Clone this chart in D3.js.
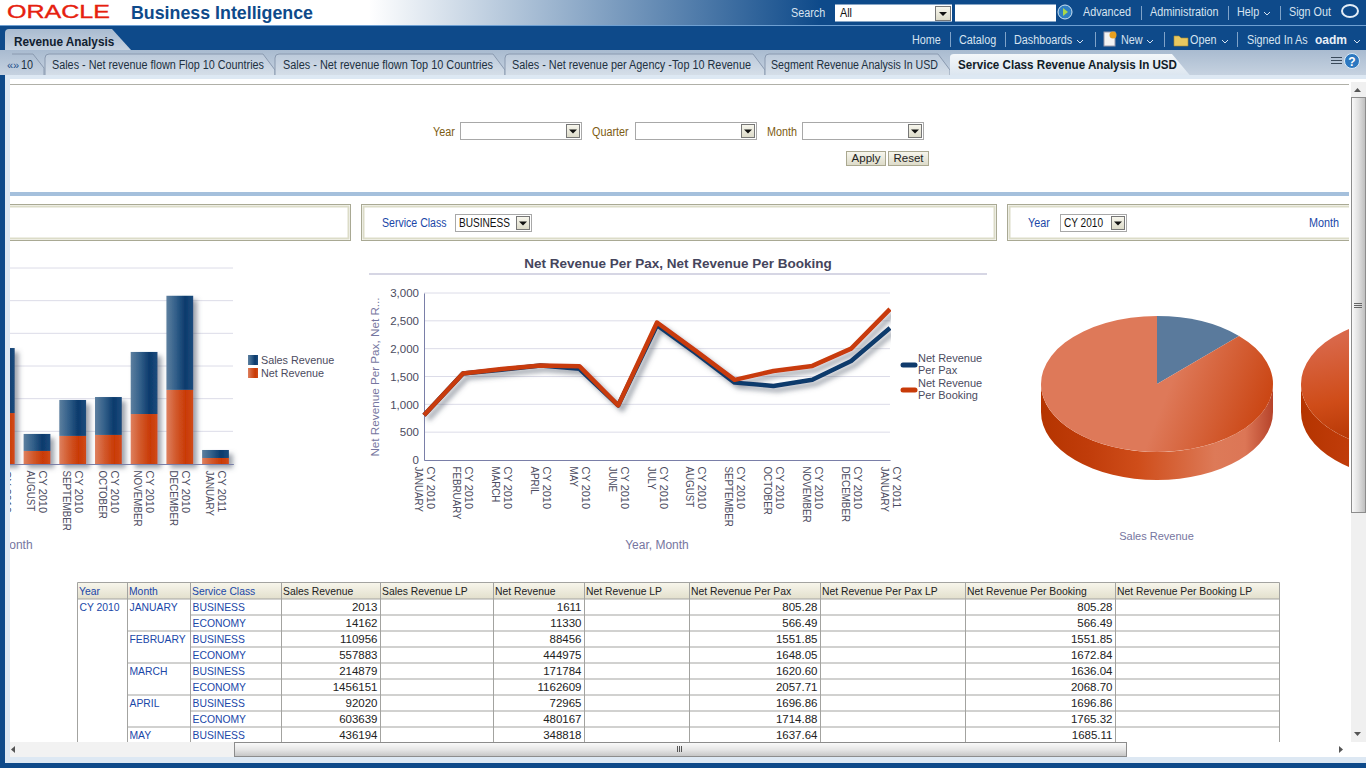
<!DOCTYPE html>
<html>
<head>
<meta charset="utf-8">
<title>Service Class Revenue Analysis In USD</title>
<script src="https://cdn.jsdelivr.net/npm/d3@7"></script>
<style>
  html, body { margin: 0; padding: 0; background: #fff; overflow: hidden; }
  text { font-family: "Liberation Sans", Arial, sans-serif; }
</style>
</head>
<body>
<div id="page"></div>
<script>
// bar chart (only the part left of the scroll edge is visible)
const barMonths = ["JULY", "AUGUST", "SEPTEMBER", "OCTOBER", "NOVEMBER", "DECEMBER", "JANUARY"];
const barYears = ["CY 2010", "CY 2010", "CY 2010", "CY 2010", "CY 2010", "CY 2010", "CY 2011"];
const barSales = [1990000, 520000, 1100000, 1160000, 1900000, 2880000, 245000];
const barNet = [1560000, 400000, 860000, 890000, 1530000, 2270000, 184000];
const barTicks = [0, 1000000, 2000000, 3000000, 4000000, 5000000, 6000000];

// line chart
const lineMonths = ["JANUARY", "FEBRUARY", "MARCH", "APRIL", "MAY", "JUNE", "JULY", "AUGUST", "SEPTEMBER", "OCTOBER", "NOVEMBER", "DECEMBER", "JANUARY"];
const lineYears = ["CY 2010", "CY 2010", "CY 2010", "CY 2010", "CY 2010", "CY 2010", "CY 2010", "CY 2010", "CY 2010", "CY 2010", "CY 2010", "CY 2010", "CY 2011"];
const perPax = [805, 1552, 1620, 1697, 1638, 980, 2420, 1920, 1390, 1330, 1440, 1780, 2370];
const perBooking = [805, 1552, 1636, 1697, 1685, 980, 2470, 1960, 1440, 1600, 1690, 2000, 2710];
const lineTicks = [0, 500, 1000, 1500, 2000, 2500, 3000];

// pies
const pieClasses = ["BUSINESS", "ECONOMY"];
const pieSales = [1850000, 12950000];
const pieNet = [1480000, 10360000];

// table
const tableHeaders = ["Year", "Month", "Service Class", "Sales Revenue", "Sales Revenue LP", "Net Revenue", "Net Revenue LP", "Net Revenue Per Pax", "Net Revenue Per Pax LP", "Net Revenue Per Booking", "Net Revenue Per Booking LP"];
const tableMonths = ["JANUARY", "", "FEBRUARY", "", "MARCH", "", "APRIL", "", "MAY"];
const tableClasses = ["BUSINESS", "ECONOMY", "BUSINESS", "ECONOMY", "BUSINESS", "ECONOMY", "BUSINESS", "ECONOMY", "BUSINESS"];
const tableSales = ["2013", "14162", "110956", "557883", "214879", "1456151", "92020", "603639", "436194"];
const tableNet = ["1611", "11330", "88456", "444975", "171784", "1162609", "72965", "480167", "348818"];
const tablePax = ["805.28", "566.49", "1551.85", "1648.05", "1620.60", "2057.71", "1696.86", "1714.88", "1637.64"];
const tableBooking = ["805.28", "566.49", "1551.85", "1672.84", "1636.04", "2068.70", "1696.86", "1765.32", "1685.11"];

const NAVY = "#0e4a8a";
const LINK = "#1a47a8";
const CHART_TEXT = "#4b4b60";
const AXIS_TITLE = "#7676a0";

const svg = d3.select("#page").append("svg").attr("width", 1366).attr("height", 768).style("display", "block");
const defs = svg.append("defs");

function gradient(id, stops, x1 = 0, y1 = 0, x2 = 1, y2 = 0, user = false) {
  const g = defs.append("linearGradient").attr("id", id)
    .attr("x1", x1).attr("y1", y1).attr("x2", x2).attr("y2", y2);
  if (user) g.attr("gradientUnits", "userSpaceOnUse");
  stops.forEach(s => g.append("stop").attr("offset", s[0]).attr("stop-color", s[1]));
}

gradient("topBar", [[0, "#ffffff"], [0.27, "#ffffff"], [0.6, NAVY], [1, NAVY]]);
gradient("tabStrip", [[0, "#a9bbd0"], [1, "#c6d2e0"]], 0, 0, 0, 1);
gradient("activeTab", [[0, "#f4f7fa"], [1, "#d8e3ee"]], 0, 0, 0, 1);
gradient("inactiveTab", [[0, "#bccadb"], [1, "#d5dee8"]], 0, 0, 0, 1);
gradient("btn", [[0, "#f8f7ee"], [1, "#dcdac8"]], 0, 0, 0, 1);
gradient("tableHead", [[0, "#f8f6ec"], [1, "#e2dfcc"]], 0, 0, 0, 1);
gradient("scrollH", [[0, "#fbfbfb"], [0.5, "#e6e6e6"], [1, "#c4c4c4"]], 0, 0, 0, 1);
gradient("scrollV", [[0, "#fbfbfb"], [0.5, "#e0e0e0"], [1, "#bcbcbc"]]);
gradient("barBlue", [[0, "#5d7f9f"], [0.35, "#33608a"], [0.7, "#0b3a6c"], [1, "#1c4c7d"]]);
gradient("barOrange", [[0, "#de805f"], [0.35, "#d25a2d"], [0.72, "#c93a05"], [1, "#d04a18"]]);
gradient("pieWall", [[0, "#b53400"], [0.2, "#c03c0a"], [0.42, "#cf4d1a"], [0.75, "#dd7a58"], [0.88, "#dc7656"], [1, "#b6432a"]]);
gradient("pieFace1", [[0.1, "#de7959"], [0.85, "#cb4715"]], 0, 0, 130, 30, true);
gradient("pieFace2", [[0, "#d9684a"], [0.55, "#cf4c18"], [1, "#b03200"]], -110, -70, -50, 110, true);

const shadow = defs.append("filter").attr("id", "shadow")
  .attr("x", "-20%").attr("y", "-20%").attr("width", "150%").attr("height", "150%");
shadow.append("feDropShadow").attr("dx", 4).attr("dy", 4).attr("stdDeviation", 2.5)
  .attr("flood-color", "#50586a").attr("flood-opacity", 0.55);

defs.append("clipPath").attr("id", "contentClip").append("rect")
  .attr("x", 10).attr("y", 80).attr("width", 1339).attr("height", 662);

function rect(p, x, y, w, h, fill, stroke) {
  return p.append("rect").attr("x", x).attr("y", y).attr("width", w).attr("height", h)
    .attr("fill", fill).attr("stroke", stroke || "none");
}
function label(p, x, y, str, color, size = 12, weight = "normal", anchor = "start") {
  return p.append("text").attr("x", x).attr("y", y).attr("fill", color)
    .attr("font-size", size).attr("font-weight", weight).attr("text-anchor", anchor).text(str);
}
// the original UI font runs narrower than Liberation Sans
function narrow(t, f = 0.9) {
  return t.attr("textLength", t.node().getComputedTextLength() * f).attr("lengthAdjust", "spacingAndGlyphs");
}
function ui(p, x, y, str, color, size = 12, weight = "normal", anchor = "start") {
  return narrow(label(p, x, y, str, color, size, weight, anchor));
}
function arrowBtn(p, x, y, w, h) {
  rect(p, x + 0.5, y + 0.5, w - 1, h - 1, "url(#btn)", "#777");
  const cx = x + w / 2, cy = y + h / 2;
  p.append("path").attr("d", `M${cx - 4},${cy - 1.5}h8l-4,4z`).attr("fill", "#111");
}
function selectBox(p, x, y, w, h, str) {
  rect(p, x + 0.5, y + 0.5, w - 1, h - 1, "#fff", "#a8a8a8");
  if (str) narrow(label(p, x + 4, y + h / 2 + 4, str, "#111", 12), 0.84);
  arrowBtn(p, x + w - 16, y + 2, 14, h - 4);
}
function caret(p, x, y, color) {
  p.append("path").attr("d", `M${x - 3},${y - 2}l3,3l3,-3`).attr("fill", "none").attr("stroke", color).attr("stroke-width", 1);
}

// ---------- page chrome ----------
rect(svg, 0, 0, 1366, 768, NAVY);
rect(svg, 0, 0, 1366, 25, "url(#topBar)");
rect(svg, 0, 25, 1366, 1, "#6fa0d2");

label(svg, 7, 18, "ORACLE", "#e6200e", 18, "normal")
  .attr("textLength", 103).attr("lengthAdjust", "spacingAndGlyphs").attr("stroke", "#e6200e").attr("stroke-width", 0.35);
label(svg, 131, 19, "Business Intelligence", NAVY, 18, "bold").attr("textLength", 182).attr("lengthAdjust", "spacingAndGlyphs");

const onBlue = "#d7e3f0";
ui(svg, 791, 17, "Search", onBlue);
rect(svg, 835, 4.5, 117, 17, "#fff");
ui(svg, 840, 17, "All", "#111");
arrowBtn(svg, 935, 6, 16, 15);
rect(svg, 955, 4.5, 101, 17, "#fff");
svg.append("circle").attr("cx", 1065).attr("cy", 12).attr("r", 7).attr("fill", "#2f7fc4").attr("stroke", "#cfe3f3");
svg.append("path").attr("d", "M1063,8l5,4l-5,4z").attr("fill", "#a8d84a");
[["Advanced", 1083], ["Administration", 1150], ["Help", 1237], ["Sign Out", 1289]].forEach(d => ui(svg, d[1], 16, d[0], onBlue));
caret(svg, 1267, 14, onBlue);
[1141, 1228, 1280].forEach(x => rect(svg, x, 6, 1, 14, "#7fa3c9"));
svg.append("ellipse").attr("cx", 1350).attr("cy", 11).attr("rx", 8).attr("ry", 6).attr("fill", "none").attr("stroke", "#e4edf6").attr("stroke-width", 2);

svg.append("path").attr("d", "M5,50V33q0,-4,4,-4H112L131,50Z").attr("fill", "url(#tabStrip)");
narrow(label(svg, 14, 46, "Revenue Analysis", "#10202f", 12, "bold"), 0.98);
[["Home", 912], ["Catalog", 959], ["Dashboards", 1014], ["New", 1121], ["Open", 1190], ["Signed In As", 1247]].forEach(d => ui(svg, d[1], 44, d[0], onBlue));
narrow(label(svg, 1315, 44, "oadm", "#e8f0f8", 12, "bold"), 1);
[[1080], [1150], [1225], [1357]].forEach(d => caret(svg, d[0], 42, onBlue));
[950, 1005, 1095, 1164, 1237].forEach(x => rect(svg, x, 32, 1, 15, "#7fa3c9"));
rect(svg, 1104, 32, 11, 14, "#f3f3f3", "#99a");
svg.append("circle").attr("cx", 1113).attr("cy", 35).attr("r", 3.5).attr("fill", "#e8a020");
svg.append("path").attr("d", "M1174,36h5l2,2h7v8h-14z").attr("fill", "#e8c860").attr("stroke", "#a88a30").attr("stroke-width", 0.6);

rect(svg, 0, 50, 1366, 25, "url(#tabStrip)");
label(svg, 7, 69, "«»", "#1d4f8c", 11);
ui(svg, 21, 69, "10", "#20303f");
svg.append("path").attr("d", "M12,54H33L44,68V75").attr("fill", "none").attr("stroke", "#8a9ab0");
const tabs = [["Sales - Net revenue flown Flop 10 Countries", 45, 275, 52, 212], ["Sales - Net revenue flown Top 10 Countries", 275, 505, 283, 210], ["Sales - Net revenue per Agency -Top 10 Revenue", 505, 765, 512, 239], ["Segment Revenue Analysis In USD", 765, 950, 771, 167]];
tabs.forEach(t => {
  svg.append("path").attr("d", `M${t[1]},75V58q0,-4,4,-4H${t[2] - 12}L${t[2]},70V75`).attr("fill", "url(#inactiveTab)").attr("stroke", "#8a9ab0");
  label(svg, t[3], 69, t[0], "#20303f").attr("textLength", t[4]).attr("lengthAdjust", "spacingAndGlyphs");
});
svg.append("path").attr("d", "M950,79V57q0,-3,4,-3H1172L1193,79Z").attr("fill", "url(#activeTab)");
label(svg, 958, 69, "Service Class Revenue Analysis In USD", "#111c28", 12, "bold").attr("textLength", 219).attr("lengthAdjust", "spacingAndGlyphs");
[57, 60, 63].forEach(y => rect(svg, 1331, y, 11, 1, "#3a4a5a"));
svg.append("circle").attr("cx", 1352).attr("cy", 61).attr("r", 7.5).attr("fill", "#2c78c0").attr("stroke", "#dcecf8");
label(svg, 1352, 65.5, "?", "#fff", 12, "bold", "middle");

// side and bottom bands, content area
rect(svg, 5, 75, 1361, 688, "#dde8f3");
rect(svg, 10, 79, 1339, 678, "#fff");
rect(svg, 1349, 79, 17, 678, "#fff");
rect(svg, 10, 84, 1339, 1, "#b0b0a8");

// ---------- prompts ----------
const brown = "#7d5c12";
ui(svg, 433, 136, "Year", brown);
selectBox(svg, 460, 122, 122, 18);
ui(svg, 592, 136, "Quarter", brown);
selectBox(svg, 635, 122, 122, 18);
ui(svg, 767, 136, "Month", brown);
selectBox(svg, 802, 122, 122, 18);
[["Apply", 846, 40], ["Reset", 888, 41]].forEach(d => {
  rect(svg, d[1] + 0.5, 151.5, d[2] - 1, 14, "url(#btn)", "#aaa890");
  label(svg, d[1] + d[2] / 2, 162, d[0], "#222", 11.5, "normal", "middle");
});
rect(svg, 10, 192, 1339, 4, "#a5c0dc");

const panels = svg.append("g").attr("clip-path", "url(#contentClip)");
[[-20, 370], [361, 635], [1007, 400]].forEach(d => {
  rect(panels, d[0] + 0.5, 204.5, d[1], 36, "#fff", "#a9a994").attr("stroke-width", 1);
  rect(panels, d[0] + 2.5, 206.5, d[1] - 4, 32, "none", "#dcdcc8").attr("stroke-width", 2);
});
narrow(label(panels, 382, 227, "Service Class", LINK), 0.88);
selectBox(panels, 455, 214, 77, 18, "BUSINESS");
ui(panels, 1028, 227, "Year", LINK);
selectBox(panels, 1060, 214, 67, 18, "CY 2010");
ui(panels, 1309, 227, "Month", LINK);

const content = svg.append("g").attr("clip-path", "url(#contentClip)");

// rotated two column category labels, year on the right and month on the left
function categoryLabels(axisG, years, months) {
  axisG.selectAll(".tick text").remove();
  axisG.selectAll(".tick").each(function (d, i) {
    const t = d3.select(this);
    [[years[i], 6, 1], [months[i], -6, 0.89]].forEach(c => {
      const txt = t.append("text").attr("transform", `translate(${c[1]},6.5) rotate(90)`)
        .attr("dy", "0.35em").attr("text-anchor", "start").attr("fill", CHART_TEXT)
        .attr("font-size", 11).text(c[0]);
      if (c[2] !== 1) narrow(txt, c[2]);
    });
  });
}

// ---------- stacked bars ----------
const barChart = content.append("g");
const barX = d3.scaleBand().domain(d3.range(barMonths.length)).range([-16.55, 233.35]).paddingInner(0.25).paddingOuter(0.125);
const barY = d3.scaleLinear().domain([0, 6000000]).range([464, 268]);

barChart.append("g").selectAll("line").data(barTicks.slice(1)).join("line")
  .attr("x1", 10).attr("x2", 233).attr("y1", d => barY(d)).attr("y2", d => barY(d))
  .attr("stroke", "#dcdce8");

const barRows = barMonths.map((m, i) => ({ i, net: barNet[i], sales: barSales[i] }));
const stacked = d3.stack().keys(["net", "sales"])(barRows);
const barFills = { net: "url(#barOrange)", sales: "url(#barBlue)" };
barChart.append("g").attr("filter", "url(#shadow)").selectAll("g").data(stacked).join("g")
  .attr("fill", s => barFills[s.key])
  .selectAll("rect").data(s => s).join("rect")
  .attr("x", d => barX(d.data.i))
  .attr("width", barX.bandwidth())
  .attr("y", d => barY(d[1]))
  .attr("height", d => barY(d[0]) - barY(d[1]));

const barAxis = barChart.append("g").attr("transform", "translate(0,464)")
  .call(d3.axisBottom(barX).tickSize(0));
barAxis.select(".domain").attr("stroke", "#7a7fa8");
categoryLabels(barAxis, barYears, barMonths);

rect(barChart, 248, 355, 10, 10, "url(#barBlue)");
rect(barChart, 248, 368, 10, 10, "url(#barOrange)");
label(barChart, 261, 364, "Sales Revenue", CHART_TEXT, 10.8);
label(barChart, 261, 377, "Net Revenue", CHART_TEXT, 10.8);
label(barChart, -31, 549, "Year, Month", AXIS_TITLE, 12);

// ---------- line chart ----------
const lineChart = content.append("g");
label(lineChart, 678, 268, "Net Revenue Per Pax, Net Revenue Per Booking", "#45455c", 13.5, "bold", "middle");
rect(lineChart, 369, 273, 618, 2, "#d6d6e4");

const lineX = d3.scalePoint().domain(d3.range(lineMonths.length)).range([424, 890]);
const lineY = d3.scaleLinear().domain([0, 3000]).range([460, 293]);

lineChart.append("g").selectAll("line").data(lineTicks.slice(1)).join("line")
  .attr("x1", 424).attr("x2", 890).attr("y1", d => lineY(d)).attr("y2", d => lineY(d))
  .attr("stroke", "#dcdce8");

const yAxis = lineChart.append("g").attr("transform", "translate(424,0)")
  .call(d3.axisLeft(lineY).tickValues(lineTicks).tickSize(0).tickPadding(5).tickFormat(d3.format(",")));
yAxis.select(".domain").attr("stroke", "#7a7fa8");
yAxis.selectAll("text").attr("fill", CHART_TEXT).attr("font-size", 11.5).style("font-family", '"Liberation Sans", Arial, sans-serif');

const xAxis = lineChart.append("g").attr("transform", "translate(0,460)")
  .call(d3.axisBottom(lineX).tickSize(0));
xAxis.select(".domain").attr("stroke", "#7a7fa8");
categoryLabels(xAxis, lineYears, lineMonths);

defs.append("clipPath").attr("id", "lineClip").append("rect").attr("x", 420).attr("y", 285).attr("width", 471).attr("height", 180);
const lineGen = d3.line().x((d, i) => lineX(i)).y(d => lineY(d));
const lineSeries = lineChart.append("g").attr("clip-path", "url(#lineClip)").append("g").attr("filter", "url(#shadow)");
[[perPax, "#0f3a6c"], [perBooking, "#c83a08"]].forEach(s => {
  lineSeries.append("path").attr("d", lineGen(s[0])).attr("fill", "none")
    .attr("stroke", s[1]).attr("stroke-width", 4.5).attr("stroke-linejoin", "round");
});

label(lineChart, 375, 377, "Net Revenue Per Pax, Net R...", AXIS_TITLE, 11.7, "normal", "middle")
  .attr("transform", "rotate(-90 375 377)").attr("dy", 4);
label(lineChart, 657, 549, "Year, Month", AXIS_TITLE, 12, "normal", "middle");

[[365, "#0f3a6c", "Net Revenue", "Per Pax", 362, 374], [390, "#c83a08", "Net Revenue", "Per Booking", 387, 399]].forEach(d => {
  lineChart.append("line").attr("x1", 903).attr("x2", 915).attr("y1", d[0]).attr("y2", d[0])
    .attr("stroke", d[1]).attr("stroke-width", 5).attr("stroke-linecap", "round");
  label(lineChart, 918, d[4], d[2], CHART_TEXT, 11);
  label(lineChart, 918, d[5], d[3], CHART_TEXT, 11);
});

// ---------- pies ----------
const PIE_R = 116, PIE_TILT = 0.586, PIE_DEPTH = 28;
function drawPie(cx, cy, values, faceFill) {
  const g = content.append("g");
  const ry = PIE_R * PIE_TILT;
  g.append("path")
    .attr("d", `M${cx - PIE_R},${cy}A${PIE_R},${ry} 0 0 0 ${cx + PIE_R},${cy}V${cy + PIE_DEPTH}A${PIE_R},${ry} 0 0 1 ${cx - PIE_R},${cy + PIE_DEPTH}Z`)
    .attr("fill", "url(#pieWall)");
  const arc = d3.arc().innerRadius(0).outerRadius(PIE_R);
  const colors = ["#5a7a9c", faceFill];
  g.append("g").attr("transform", `translate(${cx},${cy}) scale(1,${PIE_TILT})`)
    .selectAll("path").data(d3.pie().sort(null)(values)).join("path")
    .attr("d", arc).attr("fill", (d, i) => colors[i]);
}
drawPie(1157, 384, pieSales, "url(#pieFace1)");
drawPie(1417, 384, pieNet, "url(#pieFace2)");
label(content, 1156.5, 540, "Sales Revenue", AXIS_TITLE, 11, "normal", "middle");

// ---------- table ----------
const tbl = content.append("g");
const colEdges = [77.5, 127.5, 190.5, 281.5, 380.5, 493.5, 584.5, 689.5, 820.5, 965.5, 1115.5, 1279.5];
const headTop = 582.5, headH = 16.5, rowH = 16;
const rowTop = i => headTop + headH + i * rowH;
const BORDER = "#a3a3a0";
const numericCols = [[3, tableSales], [5, tableNet], [7, tablePax], [9, tableBooking]];

rect(tbl, colEdges[0], headTop, colEdges[11] - colEdges[0], headH, "url(#tableHead)");
tableHeaders.forEach((h, i) => {
  ui(tbl, colEdges[i] + 1.5, headTop + 12.5, h, i < 3 ? LINK : "#222", 11.5);
});

tableClasses.forEach((c, i) => {
  const y = rowTop(i) + 12;
  ui(tbl, colEdges[2] + 2, y, c, LINK, 11.5);
  if (tableMonths[i]) ui(tbl, colEdges[1] + 2, y, tableMonths[i], LINK, 11.5);
  numericCols.forEach(n => label(tbl, colEdges[n[0] + 1] - 3, y, n[1][i], "#222", 11.5, "normal", "end"));
  const x0 = i % 2 === 1 ? colEdges[1] : colEdges[2];
  tbl.append("line").attr("x1", x0).attr("x2", colEdges[11]).attr("y1", rowTop(i + 1)).attr("y2", rowTop(i + 1)).attr("stroke", BORDER);
});
ui(tbl, colEdges[0] + 2, rowTop(0) + 12, "CY 2010", LINK, 11.5);

[headTop, headTop + headH].forEach(y => tbl.append("line").attr("x1", colEdges[0]).attr("x2", colEdges[11]).attr("y1", y).attr("y2", y).attr("stroke", BORDER));
tbl.selectAll(".edge").data(colEdges).join("line").attr("class", "edge")
  .attr("x1", d => d).attr("x2", d => d).attr("y1", headTop).attr("y2", 742).attr("stroke", BORDER);

// ---------- scroll bars ----------
rect(svg, 1351, 82, 15, 660, "#f0f0f0");
rect(svg, 1351.5, 97.5, 14, 415, "url(#scrollV)", "#8c8c8c");
[303, 305, 307].forEach(y => rect(svg, 1354, y, 8, 1, "#666"));
svg.append("path").attr("d", "M1354,92l3.5,-4l3.5,4z").attr("fill", "#555");
svg.append("path").attr("d", "M1354,732l3.5,4l3.5,-4z").attr("fill", "#555");
rect(svg, 10, 742, 224, 15, "#f2f2f2");
rect(svg, 234.5, 742.5, 892, 14, "url(#scrollH)", "#8c8c8c");
[677, 679, 681].forEach(x => rect(svg, x, 746, 1, 6, "#555"));
svg.append("path").attr("d", "M15,746l-4,3.5l4,3.5z").attr("fill", "#555");
svg.append("path").attr("d", "M1339,746l4,3.5l-4,3.5z").attr("fill", "#555");
</script>
</body>
</html>
